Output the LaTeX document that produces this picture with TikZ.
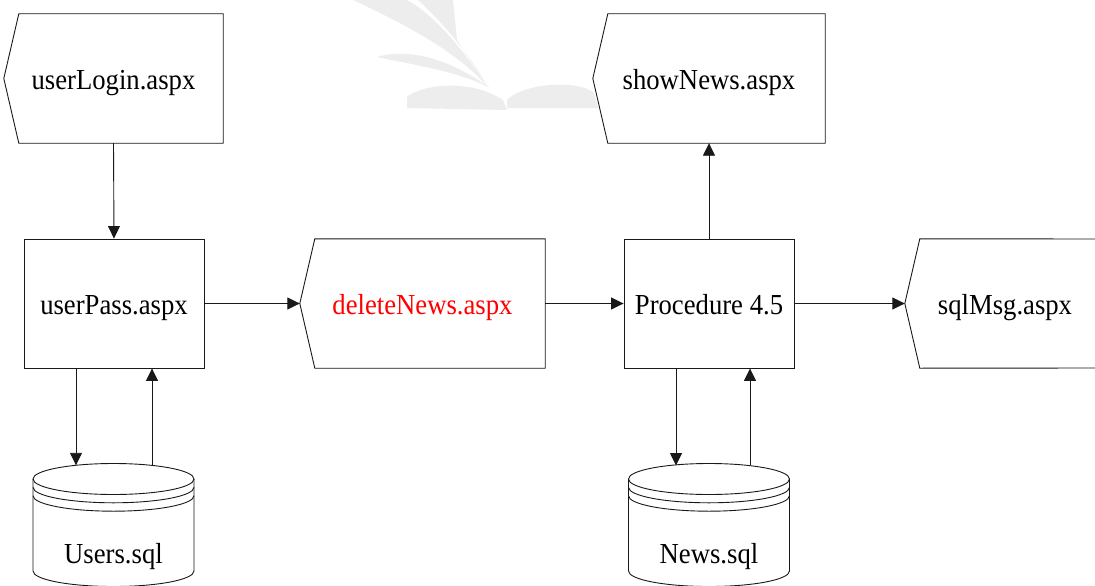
\documentclass[tikz,border=0pt]{standalone}
\usepackage{fontspec}
\setmainfont[FakeStretch=0.92]{Liberation Serif}
\usetikzlibrary{arrows.meta,calc}
\tikzset{
  ln/.style={line width=0.9pt, draw=black!90},
  arr/.style={ln, -{Triangle[length=12.5pt,width=12pt]}},
  boxtxt/.style={inner sep=0pt, text height=21pt, text depth=0pt, font=\fontsize{29}{32}\selectfont, minimum height=129pt},
  procbox/.style={boxtxt, draw, line width=0.9pt, draw=black!90},
  cyltxt/.style={inner sep=0pt, anchor=base, font=\fontsize{29}{32}\selectfont},
  wm/.style={fill=black!7, draw=none}
}
\newcommand{\dispoutline}[1]{%
  \draw[ln] ($(#1.north west)+(15,0)$) -- (#1.north east) -- (#1.south east)
    -- ($(#1.south west)+(15,0)$) -- (#1.west) -- cycle;}
\newcommand{\cylshape}[2]{% center x, name
  \draw[ln, fill=white] (#1-80.5,479) -- (#1-80.5,571)
     arc[start angle=180, end angle=360, x radius=80.5, y radius=-15.5]
     -- (#1+80.5,479);
  \draw[ln] (#1,479) ellipse[x radius=80.5, y radius=15.5];
  \draw[ln] (#1-80.5,487.3) arc[start angle=180, end angle=360, x radius=80.5, y radius=-15.5];
  \draw[ln] (#1-80.5,495.7) arc[start angle=180, end angle=360, x radius=80.5, y radius=-15.5];
}
\begin{document}
\begin{tikzpicture}[x=1pt,y=-1pt]
\useasboundingbox[fill=white] (0,0) rectangle (1095,586);
% watermark
\fill[wm] (353,0) -- (407,0) .. controls (437,17) and (463,50) .. (487,86)
   .. controls (470,67) and (440,40) .. (353,0) -- cycle;
\fill[wm] (418,0) -- (453,0) -- (457,40) .. controls (470,60) and (480,75) .. (487,86)
   .. controls (470,55) and (445,25) .. (418,0) -- cycle;
\fill[wm] (377,57) .. controls (400,50) and (440,52) .. (490,88)
   .. controls (460,72) and (420,66) .. (377,57) -- cycle;
\fill[wm] (407,108) -- (407,97) .. controls (420,85) and (470,78) .. (503,100)
   -- (507,110) -- cycle;
\fill[wm] (507,108) -- (507,100) .. controls (525,82) and (580,80) .. (594,93)
   -- (598,108) -- cycle;

% nodes
\node[boxtxt, minimum width=219pt] (login) at (113.5,78.5) {userLogin.aspx};
\dispoutline{login}
\node[boxtxt, minimum width=232pt] (show) at (709,78.5) {showNews.aspx};
\dispoutline{show}
\node[procbox, minimum width=180pt] (pass) at (114,303.5) {userPass.aspx};
\node[boxtxt, minimum width=245pt, text=red] (del) at (422.5,303.5) {deleteNews.aspx};
\dispoutline{del}
\node[procbox, minimum width=170pt] (proc) at (709,303.5) {Procedure 4.5};
\node[boxtxt, minimum width=200pt] (msg) at (1005,303.5) {sqlMsg.aspx};
\draw[ln] (1100,239) -- ($(msg.north west)+(15,0)$) -- (msg.west)
   -- ($(msg.south west)+(15,0)$) -- (1100,368);

\cylshape{113.5}{users}
\node[cyltxt] (users) at (113.5,563) {Users.sql};
\cylshape{709}{news}
\node[cyltxt] (news) at (709,563) {News.sql};

\coordinate (u1) at (76,465.3);
\coordinate (u2) at (152,465.3);
\coordinate (n1) at (676,465.5);
\coordinate (n2) at (750,465.3);

% connectors
\draw[arr] (login.south) -- (pass.north);
\draw[arr] (pass.east) -- (del.west);
\draw[arr] (del.east) -- (proc.west);
\draw[arr] (proc.east) -- (msg.west);
\draw[arr] (proc.north) -- (show.south);
\draw[arr] (pass.south -| u1) -- (u1);
\draw[arr] (u2) -- (pass.south -| u2);
\draw[arr] (proc.south -| n1) -- (n1);
\draw[arr] (n2) -- (proc.south -| n2);
\end{tikzpicture}
\end{document}
